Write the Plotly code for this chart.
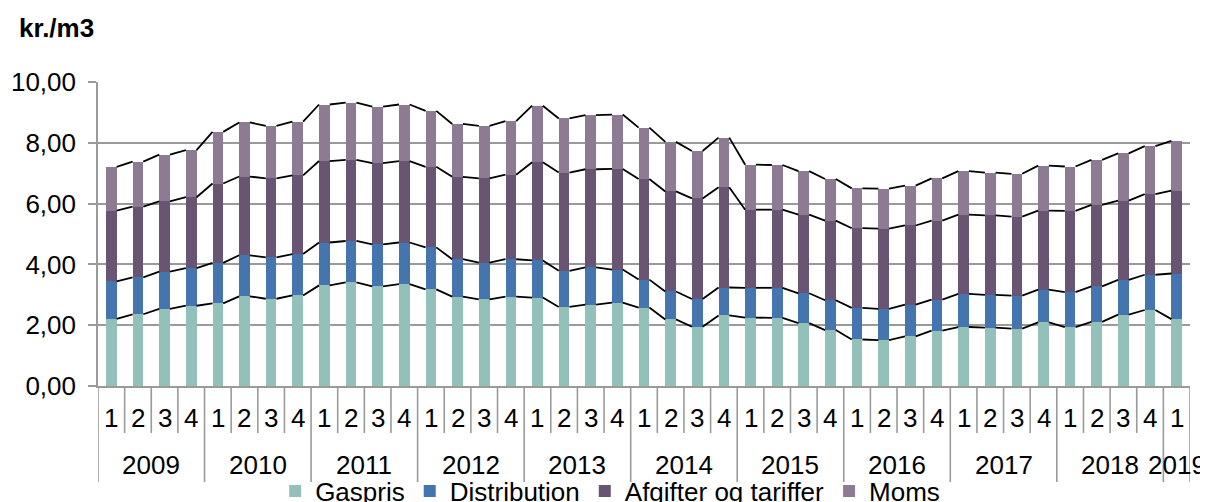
import plotly.graph_objects as go

years = ["2009", "2010", "2011", "2012", "2013", "2014", "2015", "2016", "2017", "2018", "2019"]
quarters = ["1", "2", "3", "4"] * 10 + ["1"]

gaspris = [2.21, 2.36, 2.54, 2.64, 2.72, 2.95, 2.87, 2.98, 3.31, 3.41, 3.28, 3.35,
           3.18, 2.94, 2.85, 2.94, 2.91, 2.60, 2.68, 2.74, 2.58, 2.19, 1.95, 2.32,
           2.25, 2.24, 2.07, 1.84, 1.53, 1.51, 1.63, 1.82, 1.94, 1.92, 1.89, 2.09,
           1.94, 2.11, 2.35, 2.50, 2.20]
distribution = [1.23, 1.21, 1.22, 1.24, 1.33, 1.35, 1.36, 1.36, 1.41, 1.36, 1.38, 1.37,
                1.38, 1.23, 1.21, 1.23, 1.22, 1.19, 1.22, 1.09, 0.92, 0.92, 0.91, 0.92,
                0.98, 0.99, 0.98, 0.98, 1.04, 1.03, 1.05, 1.02, 1.09, 1.08, 1.08, 1.08,
                1.15, 1.17, 1.14, 1.16, 1.50]
afgifter = [2.33, 2.33, 2.31, 2.33, 2.61, 2.59, 2.60, 2.59, 2.68, 2.67, 2.67, 2.68,
            2.65, 2.71, 2.77, 2.78, 3.23, 3.23, 3.23, 3.31, 3.31, 3.29, 3.31, 3.30,
            2.57, 2.57, 2.59, 2.62, 2.62, 2.64, 2.60, 2.60, 2.61, 2.61, 2.60, 2.60,
            2.67, 2.68, 2.61, 2.65, 2.73]
moms = [1.44, 1.48, 1.54, 1.55, 1.70, 1.78, 1.73, 1.77, 1.86, 1.88, 1.86, 1.86,
        1.84, 1.74, 1.73, 1.76, 1.86, 1.78, 1.78, 1.79, 1.69, 1.63, 1.56, 1.63,
        1.48, 1.47, 1.43, 1.37, 1.31, 1.31, 1.31, 1.39, 1.43, 1.41, 1.41, 1.48,
        1.46, 1.48, 1.55, 1.58, 1.63]

series = [
    ("Gaspris", gaspris, "#93c0b8"),
    ("Distribution", distribution, "#4575ae"),
    ("Afgifter og tariffer", afgifter, "#685574"),
    ("Moms", moms, "#8c7b93"),
]

FONT = "Arial, 'Liberation Sans', sans-serif"
FS = 26
n = len(quarters)
xs = list(range(n))
bw = 0.4
hw = bw / 2

fig = go.Figure()
for name, vals, col in series:
    fig.add_trace(go.Bar(x=xs, y=vals, name=name, marker=dict(color=col, line=dict(width=0)),
                         width=bw))

# series lines connecting stack tops between bars
cum = [0.0] * n
for name, vals, col in series:
    cum = [c + v for c, v in zip(cum, vals)]
    lx, ly = [], []
    for i in range(n - 1):
        lx += [i + hw, i + 1 - hw, None]
        ly += [cum[i], cum[i + 1], None]
    fig.add_trace(go.Scatter(x=lx, y=ly, mode="lines", line=dict(color="black", width=1.8),
                             showlegend=False, hoverinfo="skip"))

# year grouping
year_of = []
for yi, yr in enumerate(years):
    cnt = 4 if yi < len(years) - 1 else 1
    year_of += [yr] * cnt

# page body has an 8px margin: figure is drawn from (8, 8)
OFF = 8
PH = 304  # plot height px
shapes = []
annotations = []
grey = "#9a9a9a"
q_bottom = -(433 - 386) / PH
y_bottom = -(482 - 386) / PH
for k in range(n + 1):
    is_year = k == 0 or k == n or year_of[k] != year_of[k - 1]
    shapes.append(dict(type="line", xref="x", yref="paper", x0=k - 0.5, x1=k - 0.5,
                       y0=0, y1=y_bottom if is_year else q_bottom,
                       line=dict(color=grey, width=1.6)))
for i, q in enumerate(quarters):
    annotations.append(dict(x=i, y=-(418 - 386) / PH, xref="x", yref="paper", text=q,
                            showarrow=False, font=dict(size=FS, color="black", family=FONT),
                            xanchor="center", yanchor="middle"))
for yr in years:
    idxs = [i for i, y in enumerate(year_of) if y == yr]
    annotations.append(dict(x=sum(idxs) / len(idxs), y=-(465 - 386) / PH, xref="x", yref="paper",
                            text=yr, showarrow=False,
                            font=dict(size=FS, color="black", family=FONT),
                            xanchor="center", yanchor="middle"))
annotations.append(dict(x=-(98 - 17) / 1092, y=1 + (82 - 28) / PH, xref="paper", yref="paper",
                        text="<b>kr./m3</b>", showarrow=False,
                        font=dict(size=FS, color="black", family=FONT),
                        xanchor="left", yanchor="middle"))

fig.update_layout(
    width=1208 - OFF, height=502 - OFF,
    margin=dict(l=98 - OFF, r=18, t=82 - OFF, b=116, autoexpand=False),
    paper_bgcolor="white", plot_bgcolor="white",
    barmode="stack",
    separators=",.",
    font=dict(family=FONT, size=FS, color="black"),
    showlegend=True,
    legend=dict(orientation="h", x=0.469, xanchor="center", y=-(491 - 386) / PH, yanchor="middle",
                font=dict(size=FS, family=FONT, color="black"), itemwidth=30,
                traceorder="normal",
                bgcolor="rgba(0,0,0,0)", tracegroupgap=0),
    shapes=shapes,
    annotations=annotations,
)
fig.update_xaxes(range=[-0.5, n - 0.5], showticklabels=False, showgrid=False, zeroline=False,
                 showline=True, linecolor=grey, linewidth=1.6, ticks="", automargin=False)
fig.update_yaxes(range=[0, 10], tickvals=[0, 2, 4, 6, 8, 10], tickformat=".2f",
                 showgrid=True, gridcolor=grey, gridwidth=1.6, zeroline=False,
                 showline=True, linecolor=grey, linewidth=1.6,
                 ticks="outside", ticklen=8, tickcolor=grey, tickwidth=1.6, automargin=False,
                 ticklabelstandoff=7, tickfont=dict(size=FS, family=FONT, color="black"))

fig.write_html("out.html")
